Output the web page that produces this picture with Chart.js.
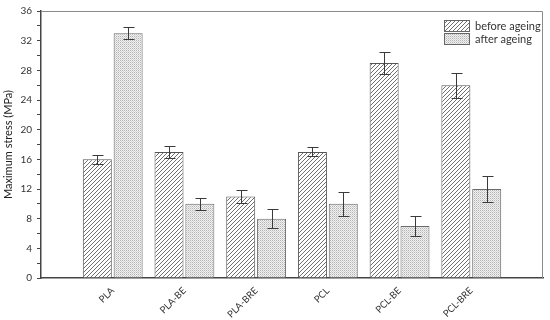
<!DOCTYPE html>
<html>
<head>
<meta charset="utf-8">
<script src="https://cdn.jsdelivr.net/npm/chart.js@4/dist/chart.umd.min.js"></script>
<style>
html,body{margin:0;padding:0;background:#fff;}
#wrap{width:550px;height:320px;}
</style>
</head>
<body>
<div id="wrap"><canvas id="c" width="550" height="320"></canvas></div>
<script>
const categories = ['PLA', 'PLA-BE', 'PLA-BRE', 'PCL', 'PCL-BE', 'PCL-BRE'];
const seriesNames = ['before ageing', 'after ageing'];
const beforeValues = [16, 17, 11, 17, 29, 26];
const beforeErrors = [0.65, 0.8, 0.9, 0.6, 1.5, 1.7];
const afterValues = [33, 10, 8, 10, 7, 12];
const afterErrors = [0.8, 0.8, 1.3, 1.6, 1.3, 1.7];
const yTicks = [0, 4, 8, 12, 16, 20, 24, 28, 32, 36];

function hatchPattern() {
  const c = document.createElement('canvas');
  c.width = 4; c.height = 4;
  const g = c.getContext('2d');
  g.fillStyle = '#ffffff'; g.fillRect(0, 0, 4, 4);
  g.strokeStyle = '#707070'; g.lineWidth = 1;
  g.beginPath();
  g.moveTo(-1, 5); g.lineTo(5, -1);
  g.moveTo(-1, 1); g.lineTo(1, -1);
  g.moveTo(3, 5); g.lineTo(5, 3);
  g.stroke();
  return g.createPattern(c, 'repeat');
}
function dotPattern() {
  const c = document.createElement('canvas');
  c.width = 2; c.height = 2;
  const g = c.getContext('2d');
  g.fillStyle = '#f0f0f0'; g.fillRect(0, 0, 2, 2);
  g.fillStyle = '#b4b4b4'; g.fillRect(0, 0, 1, 1);
  g.fillStyle = '#d4d4d4'; g.fillRect(1, 1, 1, 1);
  return g.createPattern(c, 'repeat');
}

const labels = [''].concat(categories, ['']);
const pad = arr => [null].concat(arr, [null]);
const errs = [pad(beforeErrors), pad(afterErrors)];

const errorBars = {
  id: 'errorBars',
  afterDatasetsDraw(chart) {
    const ctx = chart.ctx;
    const y = chart.scales.y;
    ctx.save();
    ctx.strokeStyle = '#3a3a3a';
    ctx.lineWidth = 1;
    chart.data.datasets.forEach((ds, di) => {
      const meta = chart.getDatasetMeta(di);
      meta.data.forEach((bar, i) => {
        const v = ds.data[i], e = errs[di][i];
        if (v == null || e == null) return;
        const x = Math.round(bar.x) + 0.5;
        const yt = Math.round(y.getPixelForValue(v + e)) + 0.5;
        const yb = Math.round(y.getPixelForValue(v - e)) + 0.5;
        ctx.beginPath();
        ctx.moveTo(x, yt); ctx.lineTo(x, yb);
        ctx.moveTo(x - 5, yt); ctx.lineTo(x + 6, yt);
        ctx.moveTo(x - 5, yb); ctx.lineTo(x + 6, yb);
        ctx.stroke();
      });
    });
    ctx.restore();
  }
};

const frameAndLegend = {
  id: 'frameAndLegend',
  afterDraw(chart) {
    const ctx = chart.ctx;
    const a = chart.chartArea;
    ctx.save();
    ctx.strokeStyle = '#8a8a8a';
    ctx.lineWidth = 1;
    ctx.beginPath();
    ctx.moveTo(a.left, a.top + 0.5); ctx.lineTo(a.right - 0.5, a.top + 0.5); ctx.lineTo(a.right - 0.5, a.bottom);
    ctx.stroke();
    // legend
    const lx = a.right - 99, ly = a.top + 9;
    chart.data.datasets.forEach((ds, i) => {
      const yy = ly + i * 13;
      ctx.fillStyle = ds.backgroundColor;
      ctx.fillRect(lx, yy, 25, 11);
      ctx.strokeStyle = '#666';
      ctx.strokeRect(lx + 0.5, yy + 0.5, 25, 11);
      ctx.fillStyle = '#333';
      ctx.font = '11px Lato, "Open Sans", sans-serif';
      ctx.textBaseline = 'middle';
      ctx.textAlign = 'left';
      ctx.fillText(ds.label, lx + 31, yy + 6);
    });
    ctx.restore();
  }
};

new Chart(document.getElementById('c'), {
  type: 'bar',
  data: {
    labels: labels,
    datasets: [
      { label: seriesNames[0], data: pad(beforeValues), backgroundColor: hatchPattern(), borderColor: '#555', borderWidth: 1 },
      { label: seriesNames[1], data: pad(afterValues), backgroundColor: dotPattern(), borderColor: '#6a6a6a', borderWidth: 1 }
    ]
  },
  options: {
    responsive: false,
    animation: false,
    devicePixelRatio: 1,
    layout: { padding: { top: 10, right: 0, left: 0, bottom: 0 } },
    datasets: { bar: { categoryPercentage: 0.86, barPercentage: 0.94 } },
    plugins: { legend: { display: false }, tooltip: { enabled: false } },
    scales: {
      x: {
        offset: false,
        grid: { display: false, drawTicks: false },
        border: { display: true, color: '#444', width: 1.5 },
        ticks: {
          autoSkip: false, minRotation: 45, maxRotation: 45, padding: 7,
          color: '#333', font: { family: 'Lato, "Open Sans", sans-serif', size: 9.5 }
        },
        afterFit(s) { s.height = 42; s.paddingRight = 7; s.paddingLeft = 0; }
      },
      y: {
        min: 0, max: 36,
        grid: { display: true, drawOnChartArea: false, drawTicks: true, tickLength: 4, color: '#444' },
        border: { display: true, color: '#444', width: 1.5 },
        ticks: {
          stepSize: 2, autoSkip: false, padding: 5, color: '#333',
          font: { family: 'Lato, "Open Sans", sans-serif', size: 10 },
          callback: v => (yTicks.includes(v) ? String(v) : '')
        },
        title: {
          display: true, text: 'Maximum stress (MPa)', color: '#222', padding: 2,
          font: { family: 'Lato, "Open Sans", sans-serif', size: 11 }
        },
        afterFit(s) { s.width = 41; }
      }
    }
  },
  plugins: [errorBars, frameAndLegend]
});
</script>
</body>
</html>
